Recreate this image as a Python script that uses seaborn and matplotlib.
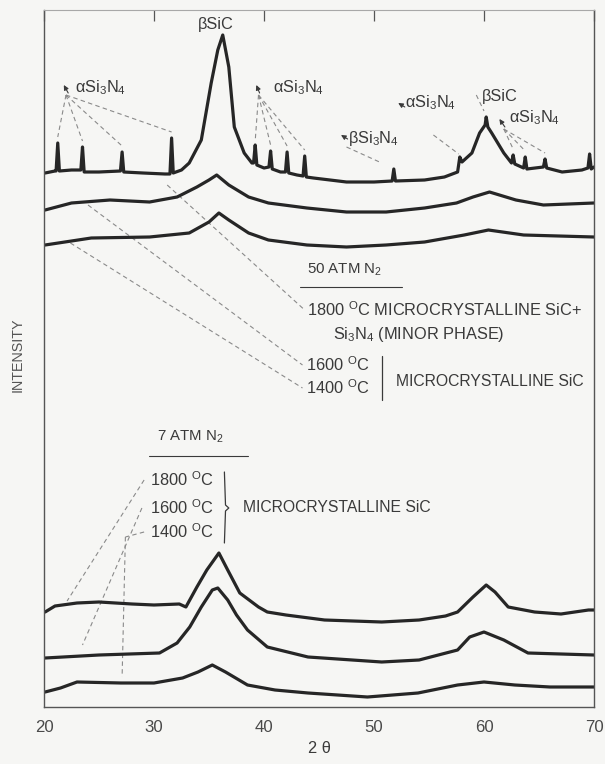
import matplotlib
matplotlib.use("Agg")
import matplotlib.pyplot as plt
from matplotlib import font_manager
import pandas as pd
import seaborn as sns

# ---------------- data (2-theta in degrees, intensity in arbitrary units) ----------------
tt_1800_50 = [20.1, 21.0, 21.1, 21.25, 21.4, 22.5, 23.35, 23.5, 23.65, 25.0, 26.95, 27.1, 27.25,
              29.0, 31.0, 31.45, 31.6, 31.75, 32.5, 33.2, 34.3, 35.2, 35.8, 36.25, 36.8, 37.3,
              38.2, 38.9, 39.05, 39.2, 39.35, 40.0, 40.45, 40.6, 40.75, 41.5, 41.95, 42.1, 42.25,
              43.0, 43.55, 43.7, 43.85, 44.5, 47.5, 50.0, 51.65, 51.8, 51.95, 54.6, 56.4, 57.6,
              57.8, 58.0, 58.9, 59.6, 60.1, 60.2, 60.35, 60.7, 61.8, 62.5, 62.65, 62.8, 63.6,
              63.75, 63.9, 65.4, 65.55, 65.7, 67.1, 68.9, 69.45, 69.6, 69.75, 70.0]
int_1800_50 = [534, 536, 536, 564, 536, 537, 537, 560, 535, 535, 536, 555, 535,
               534, 533, 533, 569, 534, 537, 544, 567, 624, 657, 672, 640, 580,
               554, 544, 544, 562, 542, 539, 540, 556, 538, 535, 535, 555, 534,
               532, 531, 551, 530, 529, 525, 525, 526, 538, 526, 527, 530, 535,
               550, 545, 554, 574, 582, 590, 580, 574, 554, 544, 552, 543, 539,
               550, 538, 540, 548, 539, 535, 537, 539, 553, 538, 540]

tt_1600_50 = [20.1, 22.5, 26.0, 29.6, 32.1, 33.9, 35.0, 35.7, 36.8, 38.6, 40.4, 43.9, 47.5,
              51.1, 54.6, 57.5, 59.0, 60.5, 62.9, 65.4, 70.0]
int_1600_50 = [497, 504, 507, 505, 510, 520, 527, 532, 522, 510, 504, 499, 495,
               495, 499, 504, 510, 515, 507, 502, 504]

tt_1400_50 = [20.1, 24.3, 29.6, 33.2, 35.0, 35.9, 36.8, 38.6, 40.4, 43.9, 47.5, 51.1, 54.6,
              58.2, 60.4, 63.6, 70.0]
int_1400_50 = [462, 469, 470, 474, 485, 494, 487, 474, 467, 462, 460, 462, 465,
               472, 477, 472, 470]

tt_1800_7 = [20.1, 21.0, 23.0, 25.0, 28.0, 30.0, 32.3, 32.9, 33.9, 34.8, 35.9, 36.7, 37.8,
             39.5, 40.3, 42.0, 45.5, 50.7, 54.1, 56.5, 57.6, 59.0, 60.2, 61.0, 62.2, 64.6,
             67.0, 69.5, 70.0]
int_1800_7 = [95, 101, 104, 105, 103, 102, 103, 100, 120, 137, 154, 137, 114,
              100, 95, 92, 87, 85, 87, 91, 95, 110, 122, 115, 100, 95,
              93, 97, 97]

tt_1600_7 = [20.1, 25.0, 30.5, 32.1, 33.25, 34.3, 35.3, 35.8, 36.7, 37.5, 38.5, 40.3, 44.0,
             50.7, 54.1, 57.6, 58.7, 60.0, 61.8, 64.0, 70.0]
int_1600_7 = [49, 52, 54, 64, 80, 100, 117, 119, 107, 92, 77, 60, 50,
              45, 47, 57, 70, 75, 67, 54, 52]

tt_1400_7 = [20.1, 21.5, 23.0, 27.0, 30.0, 32.6, 34.0, 35.3, 36.5, 38.5, 41.0, 44.0, 49.4,
             54.0, 57.6, 60.0, 62.8, 66.0, 70.0]
int_1400_7 = [15, 19, 25, 24, 24, 29, 35, 42, 35, 22, 17, 14, 10,
              14, 22, 25, 22, 20, 20]

sample_names = ["50 atm, 1800", "50 atm, 1600", "50 atm, 1400",
                "7 atm, 1800", "7 atm, 1600", "7 atm, 1400"]
x_ticks = [20, 30, 40, 50, 60, 70]
x_tick_labels = ["20", "30", "40", "50", "60", "70"]

# ---------------- build table ----------------
series = [(tt_1800_50, int_1800_50), (tt_1600_50, int_1600_50), (tt_1400_50, int_1400_50),
          (tt_1800_7, int_1800_7), (tt_1600_7, int_1600_7), (tt_1400_7, int_1400_7)]
frames = []
for name, (tt, iv) in zip(sample_names, series):
    frames.append(pd.DataFrame({"two_theta": tt, "intensity": iv, "sample": name}))
df = pd.concat(frames, ignore_index=True)

# ---------------- style ----------------
sns.set_theme(style="white")
installed = {f.name for f in font_manager.fontManager.ttflist}
main_font = "Liberation Sans Narrow" if "Liberation Sans Narrow" in installed else "Liberation Sans"
plt.rcParams["font.family"] = [main_font, "DejaVu Sans"]
plt.rcParams["mathtext.fontset"] = "custom"
plt.rcParams["mathtext.rm"] = main_font
plt.rcParams["mathtext.it"] = main_font
plt.rcParams["mathtext.bf"] = main_font
plt.rcParams["mathtext.default"] = "regular"
narrow = main_font == "Liberation Sans Narrow"
tfs = 13.5 if narrow else 11.8

BG = "#f6f6f4"
INK = "#262626"
TXT = "#3a3a3a"
LEAD = "#8a8a8a"

fig = plt.figure(figsize=(6.05, 7.64), dpi=100, facecolor=BG)
ax = fig.add_axes([44 / 605, 57 / 764, 550 / 605, 697 / 764])
ax.set_facecolor(BG)

sns.lineplot(data=df, x="two_theta", y="intensity", hue="sample", estimator=None,
             sort=False, palette=[INK] * len(sample_names), linewidth=2.3,
             legend=False, ax=ax)

ax.set_xlim(20, 70)
ax.set_ylim(0, 697)
ax.set_xticks(x_ticks)
ax.set_xticklabels(x_tick_labels)
ax.set_yticks([])
ax.tick_params(axis="x", direction="in", length=8, width=0.9, colors="#555555",
               labelcolor="#4a4a4a", labelsize=tfs + 0.3, pad=9, top=True)
ax.set_xlabel("2 θ", fontsize=tfs, color=TXT, labelpad=5)
ax.set_ylabel("")
fig.text(18 / 605, 1 - 355 / 764, "INTENSITY", rotation=90, ha="center", va="center",
         fontsize=tfs - 1.5, color="#555555")
for side, sp in ax.spines.items():
    sp.set_visible(True)
    sp.set_color("#555555")
    sp.set_linewidth(1.0)
ax.spines["top"].set_color("#a8a8a8")
ax.spines["top"].set_linewidth(0.8)


def lead(x0, y0, x1, y1, ls=(0, (4, 3))):
    ax.plot([x0, x1], [y0, y1], color=LEAD, lw=0.8, linestyle=ls, zorder=1)


def arrow(xtip, ytip, xfrom, yfrom):
    ax.annotate("", xy=(xtip, ytip), xytext=(xfrom, yfrom),
                arrowprops=dict(arrowstyle="-|>", color=TXT, lw=0.8,
                                mutation_scale=7, shrinkA=0, shrinkB=0))


SI3N4 = r"Si$_3$N$_4$"

# peak labels, top group
ax.text(35.6, 682, "βSiC", ha="center", va="center", fontsize=tfs, color=TXT)

ax.text(22.8, 619, "α" + SI3N4, ha="left", va="center", fontsize=tfs, color=TXT)
arrow(21.8, 622, 22.2, 614)
for px, py in [(21.25, 570), (23.5, 566), (27.1, 561), (31.6, 575)]:
    lead(22.0, 612, px, py)

ax.text(40.8, 619, "α" + SI3N4, ha="left", va="center", fontsize=tfs, color=TXT)
arrow(39.3, 622, 39.6, 614)
for px, py in [(39.2, 566), (40.6, 562), (42.1, 561), (43.7, 557)]:
    lead(39.5, 612, px, py)

ax.text(52.8, 604, "α" + SI3N4, ha="left", va="center", fontsize=tfs, color=TXT)
arrow(52.2, 604, 52.8, 600)
lead(55.4, 572, 57.7, 553)

ax.text(59.8, 610, "βSiC", ha="left", va="center", fontsize=tfs, color=TXT)
lead(59.3, 612, 60.0, 596)

ax.text(47.6, 569, "β" + SI3N4, ha="left", va="center", fontsize=tfs, color=TXT)
arrow(47.0, 572, 47.6, 568)
lead(47.5, 560, 50.5, 545)

ax.text(62.3, 589, "α" + SI3N4, ha="left", va="center", fontsize=tfs, color=TXT)
arrow(61.4, 588, 61.9, 580)
for px, py in [(62.65, 558), (63.75, 556), (65.55, 554)]:
    lead(61.8, 578, px, py)

# 50 atm legend text
ax.text(43.9, 437, r"50 ATM N$_2$", ha="left", va="center", fontsize=tfs - 1, color=TXT)
ax.plot([43.3, 52.5], [420, 420], color=TXT, lw=0.8)
ax.text(43.9, 397, r"1800 $^{O}$C MICROCRYSTALLINE SiC+", ha="left", va="center",
        fontsize=tfs, color=TXT)
ax.text(46.3, 373, SI3N4 + " (MINOR PHASE)", ha="left", va="center", fontsize=tfs, color=TXT)
ax.text(43.8, 342, r"1600 $^{O}$C", ha="left", va="center", fontsize=tfs, color=TXT)
ax.text(43.8, 319, r"1400 $^{O}$C", ha="left", va="center", fontsize=tfs, color=TXT)
ax.plot([50.7, 50.7], [307, 351], color=TXT, lw=0.9)
ax.text(52.0, 326, "MICROCRYSTALLINE SiC", ha="left", va="center", fontsize=tfs - 0.5,
        color=TXT)
lead(31.2, 522, 43.6, 398)
lead(24.0, 502, 43.5, 342)
lead(22.4, 464, 43.5, 319)

# 7 atm legend text
ax.text(30.3, 270, r"7 ATM N$_2$", ha="left", va="center", fontsize=tfs - 1, color=TXT)
ax.plot([29.5, 38.5], [251, 251], color=TXT, lw=0.8)
ax.text(29.6, 227, r"1800 $^{O}$C", ha="left", va="center", fontsize=tfs, color=TXT)
ax.text(29.6, 199, r"1600 $^{O}$C", ha="left", va="center", fontsize=tfs, color=TXT)
ax.text(29.6, 175, r"1400 $^{O}$C", ha="left", va="center", fontsize=tfs, color=TXT)
ax.plot([36.4, 36.5, 36.8, 36.5, 36.4], [235, 202, 199, 196, 164], color=TXT, lw=0.9)
ax.text(38.1, 199, "MICROCRYSTALLINE SiC", ha="left", va="center", fontsize=tfs - 0.5,
        color=TXT)
lead(29.1, 227, 22.1, 106)
lead(28.9, 199, 23.5, 62)
lead(29.1, 175, 27.4, 170)
lead(27.4, 170, 27.1, 30)

fig.savefig("out.png", dpi=100, facecolor=BG)
